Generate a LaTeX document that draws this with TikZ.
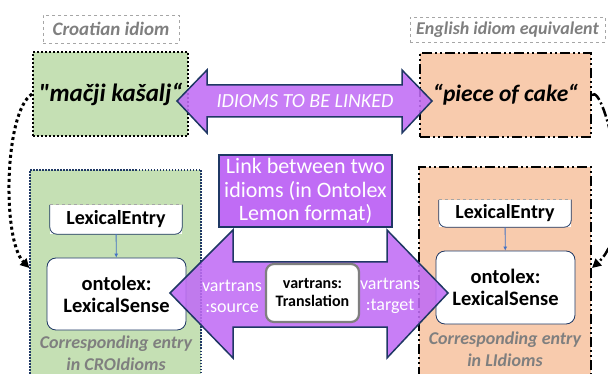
\documentclass[tikz,border=0pt]{standalone}
\usepackage{fontspec}
\setmainfont{Carlito}
\usetikzlibrary{arrows.meta, positioning, calc}

\definecolor{crogreen}{RGB}{197,224,180}
\definecolor{engpeach}{RGB}{248,203,173}
\definecolor{linkpurple}{RGB}{192,108,245}
\definecolor{navyline}{RGB}{31,56,100}
\definecolor{labelgray}{RGB}{127,127,127}
\definecolor{boxgray}{RGB}{166,166,166}
\definecolor{senseblue}{RGB}{68,114,196}

% straight quote, kept out of the TeX ligature mapping
\newcommand{\straightquote}{\XeTeXglyph\numexpr\XeTeXcharglyph"22\relax}

\begin{document}
\begin{tikzpicture}[
    x=1pt, y=-1pt,
    font=\bfseries,
    idiomlbl/.style = {
        draw=boxgray, dashed, line width=0.8pt, fill=white,
        font=\fontsize{19}{21}\selectfont\bfseries\itshape, text=labelgray,
        inner sep=0pt
    },
    crobox/.style = {
        draw=black, fill=crogreen, line width=2pt,
        dash pattern=on 2pt off 2pt, inner sep=0pt,
        font=\fontsize{25}{28}\selectfont\bfseries\itshape
    },
    engbox/.style = {
        draw=black, fill=engpeach, line width=2pt,
        dash pattern=on 10pt off 3pt on 2pt off 3pt on 2pt off 3pt,
        inner sep=0pt, font=\fontsize{23.5}{28}\selectfont\bfseries\itshape
    },
    croentry/.style = {
        draw=navyline, fill=crogreen, line width=1.3pt,
        dash pattern=on 1.5pt off 1.5pt, inner sep=0pt
    },
    engentry/.style = {
        draw=black, fill=engpeach, line width=2pt,
        dash pattern=on 10pt off 3pt on 2pt off 3pt on 2pt off 3pt,
        inner sep=0pt
    },
    lexentry/.style = {
        fill=white, inner sep=0pt,
        font=\fontsize{20}{22}\selectfont\bfseries
    },
    lexsense/.style = {
        draw=navyline, fill=white, rounded corners=9pt, line width=0.8pt,
        align=center, inner sep=0pt,
        font=\fontsize{20.5}{22}\selectfont\bfseries
    },
    caption/.style = {
        align=center, text=labelgray,
        font=\fontsize{18}{22}\selectfont\bfseries\itshape
    },
    purplebox/.style = {
        draw=navyline, fill=linkpurple, line width=1.5pt, text=white,
        align=center, inner sep=0pt,
        font=\fontsize{22}{23.5}\selectfont
    },
    bigarrow/.style = {
        draw=navyline, fill=linkpurple, line width=1.5pt,
        fill opacity=0.88, line join=miter
    },
    relbox/.style = {
        draw=labelgray, fill=white, line width=2.2pt, rounded corners=8pt,
        align=center, inner sep=0pt,
        font=\fontsize{16}{18}\selectfont\bfseries
    },
    whitetxt/.style = {
        text=white, align=center,
        font=\fontsize{18}{21}\selectfont
    },
    arr/.style = {-{Latex[length=4pt,width=4pt]}, draw=senseblue, line width=0.8pt},
    curvearr/.style = {-{Triangle[length=9pt,width=9pt]}, draw=black, line width=3pt},
]
\useasboundingbox (0,0) rectangle (608,374);
\clip (0,0) rectangle (608,374);

% idioms and their labels
\node[idiomlbl, minimum width=136pt, minimum height=28pt] (crolbl) at (111,29) {Croatian idiom};
\node[idiomlbl, minimum width=195pt, minimum height=25pt, font=\fontsize{18}{21}\selectfont\bfseries\itshape]
    (englbl) at (507.5,29.5) {English idiom equivalent};
\node[crobox, minimum width=155pt, minimum height=84pt] (cro) at (110.5,94) {\straightquote mačji kašalj“};
\node[engbox, minimum width=171pt, minimum height=84pt] (eng) at (505.5,95) {“piece of cake“};

% corresponding entries
\node[croentry, minimum width=171pt, minimum height=212pt] (croent) at (115.5,276) {};
\node[engentry, minimum width=172pt, minimum height=215pt] (engent) at (505,274.5) {};

\node[lexentry, minimum width=132pt, minimum height=29pt] (crole) at (116,219.5) {LexicalEntry};
\node[lexentry, minimum width=132pt, minimum height=27pt] (engle) at (505,213.5) {LexicalEntry};
\foreach \le in {crole, engle} {
    \draw[navyline, line width=0.8pt, rounded corners=7pt]
        (\le.north west) -- (\le.south west) -- (\le.south east) -- (\le.north east);
    \draw[boxgray, dashed, line width=0.8pt] (\le.north west) -- (\le.north east);
}

\node[lexsense, minimum width=139pt, minimum height=72pt] (crols) at (116.5,294) {ontolex:\\LexicalSense};
\node[lexsense, minimum width=139pt, minimum height=73pt] (engls) at (505.5,287.5) {ontolex:\\LexicalSense};

\draw[arr] (crole) -- (crols);
\draw[arr] (engle) -- (engls);

\node[caption] (crocap) at (116,353) {Corresponding entry\\in CROIdioms};
\node[caption] (engcap) at (505,349) {Corresponding entry\\in LIdioms};

% idiom to entry
\coordinate (croin) at (croent.west |- 0,268);
\coordinate (engin) at (engent.east |- 0,268);
\draw[curvearr, dash pattern=on 3pt off 3pt]
    (cro.west) .. controls (4,112) and (2,240) .. (croin);
\draw[curvearr, line width=2.5pt, dash pattern=on 10pt off 3pt on 2pt off 3pt]
    (eng.east) .. controls (604,82) and (640,225) .. (engin);

% link arrows
\draw[bigarrow] (177,101) -- (207,70) -- (207,85) -- (402,85) -- (402,70)
    -- (432,101) -- (402,133) -- (402,117) -- (207,117) -- (207,133) -- cycle;
\node[whitetxt, font=\fontsize{20}{22}\selectfont\itshape] (linked) at (305,101) {IDIOMS TO BE LINKED};

\draw[bigarrow] (170,293) -- (233,230) -- (233,262) -- (387,262) -- (387,230)
    -- (448,293) -- (387,358) -- (387,327) -- (233,327) -- (233,358) -- cycle;

\node[purplebox, minimum width=173pt, minimum height=72pt] (link) at (305.5,191)
    {Link between two\\idioms (in Ontolex\\Lemon format)};
\node[relbox, minimum width=93pt, minimum height=58pt] (trans) at (312.5,293) {vartrans:\\Translation};
\node[whitetxt] (src) at (232,296) {vartrans\\:source};
\node[whitetxt] (tgt) at (390,296) {vartrans\\:target};

\end{tikzpicture}
\end{document}
